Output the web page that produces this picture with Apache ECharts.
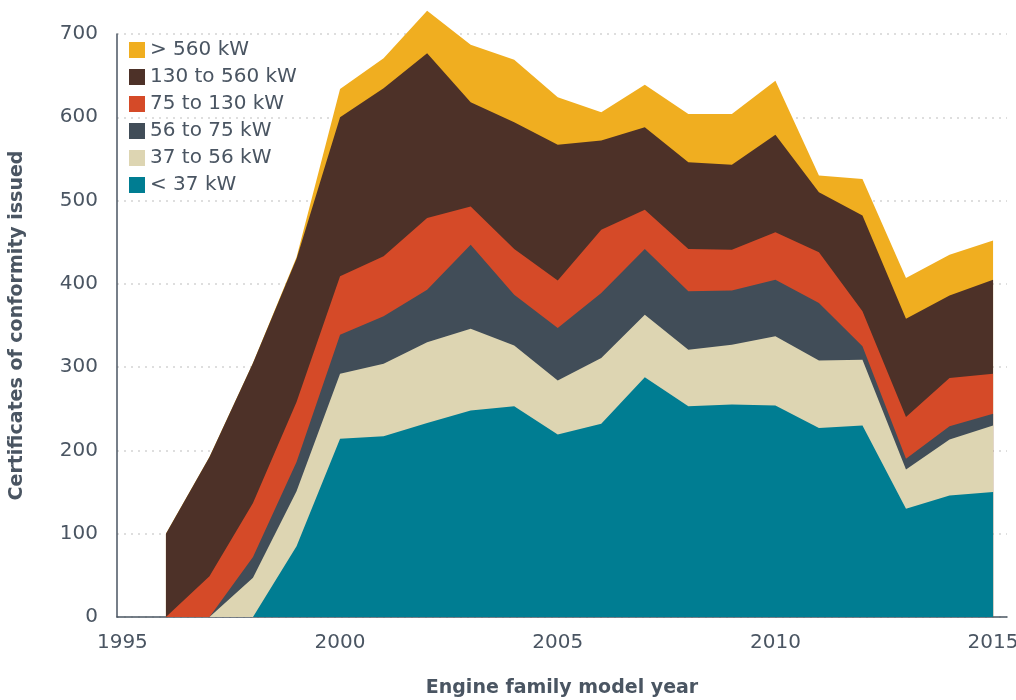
<!DOCTYPE html>
<html lang="en">
<head>
    <meta charset="UTF-8">
    <title>certificates</title>
    <script src="https://cdn.jsdelivr.net/npm/echarts@6/dist/echarts.min.js"></script>
</head>
<body style="margin:0">
<div id="main" style="width: 1016px;height:700px;"></div>
<script>
    // model years and kW classes
    var years = [1996, 1997, 1998, 1999, 2000, 2001, 2002, 2003, 2004, 2005,
        2006, 2007, 2008, 2009, 2010, 2011, 2012, 2013, 2014, 2015];
    var names = ['< 37 kW', '37 to 56 kW', '56 to 75 kW', '75 to 130 kW', '130 to 560 kW', '> 560 kW'];
    var colors = ['#007d92', '#ddd5b2', '#414d58', '#d54a28', '#4d3128', '#f0ae20'];

    var under37 = [0, 0, 0, 85, 214, 217, 233, 248, 253, 219, 232, 288, 253, 255, 254, 227, 230, 130, 146, 150];
    var kw37to56 = [0, 0, 47, 66, 78, 87, 97, 98, 73, 65, 79, 75, 68, 72, 83, 81, 79, 47, 67, 80];
    var kw56to75 = [0, 0, 25, 35, 47, 57, 63, 101, 61, 63, 78, 79, 70, 65, 68, 69, 16, 13, 16, 14];
    var kw75to130 = [0, 49, 65, 72, 70, 72, 86, 46, 55, 57, 76, 47, 51, 49, 57, 61, 42, 50, 58, 48];
    var kw130to560 = [100, 143, 168, 172, 191, 202, 198, 125, 152, 163, 107, 99, 104, 102, 117, 72, 115, 118, 99, 113];
    var over560 = [0, 0, 0, 2, 34, 36, 51, 69, 75, 57, 34, 51, 58, 61, 65, 20, 44, 49, 49, 47];

    var values = [under37, kw37to56, kw56to75, kw75to130, kw130to560, over560];
    var yTicks = [0, 100, 200, 300, 400, 500, 600, 700];

    var fontName = 'DejaVu Sans';
    var textColor = '#4a5562';

    // stack by hand (x axis is a value axis), top layer first so lower ones paint over it
    var cum = years.map(function () { return 0; });
    var stacked = [];
    for (var i = 0; i < values.length; i++) {
        cum = cum.map(function (c, j) { return c + values[i][j]; });
        stacked.push(cum.slice());
    }
    var series = [];
    for (var k = names.length - 1; k >= 0; k--) {
        series.push({
            name: names[k],
            type: 'line',
            clip: false,
            showSymbol: false,
            symbol: 'none',
            lineStyle: {width: 0},
            areaStyle: {color: colors[k], opacity: 1},
            itemStyle: {color: colors[k]},
            data: years.map(function (y, j) { return [y, stacked[k][j]]; })
        });
    }

    var chart = echarts.init(document.getElementById("main"));
    option = {
        backgroundColor: '#fff',
        animation: false,
        textStyle: {fontFamily: fontName},
        grid: {
            left: 117,
            right: 9,
            top: 34,
            bottom: 83,
            outerBoundsMode: 'none',
            containLabel: false
        },
        legend: {
            orient: 'vertical',
            left: 129,
            top: 40,
            padding: 0,
            itemWidth: 16,
            itemHeight: 16,
            itemGap: 7,
            icon: 'rect',
            data: names.slice().reverse(),
            textStyle: {
                color: textColor,
                fontSize: 20,
                fontFamily: fontName
            }
        },
        xAxis: {
            type: 'value',
            min: 1994.876,
            max: 2015.32,
            name: 'Engine family model year',
            nameLocation: 'middle',
            nameGap: 62,
            nameTextStyle: {
                color: textColor,
                fontSize: 19,
                fontWeight: 'bold',
                fontFamily: fontName
            },
            axisLine: {show: true, lineStyle: {color: '#4a5562', width: 1.5}},
            axisTick: {show: false},
            splitLine: {show: false},
            axisLabel: {
                color: textColor,
                fontSize: 20,
                margin: 16,
                showMinLabel: false,
                showMaxLabel: false,
                formatter: function (v) {
                    return v % 5 === 0 ? String(v) : '';
                }
            }
        },
        yAxis: {
            type: 'value',
            min: yTicks[0],
            max: yTicks[yTicks.length - 1],
            interval: 100,
            name: 'Certificates of conformity issued',
            nameLocation: 'middle',
            nameGap: 90,
            nameTextStyle: {
                color: textColor,
                fontSize: 19,
                fontWeight: 'bold',
                fontFamily: fontName
            },
            axisLine: {show: true, lineStyle: {color: '#4a5562', width: 1.5}},
            axisTick: {show: false},
            splitLine: {
                show: true,
                lineStyle: {color: '#d4d4d4', width: 1.5, type: [2, 5]}
            },
            axisLabel: {
                color: textColor,
                fontSize: 20,
                margin: 19
            }
        },
        series: series
    };
    chart.setOption(option);
</script>
</body>
</html>
